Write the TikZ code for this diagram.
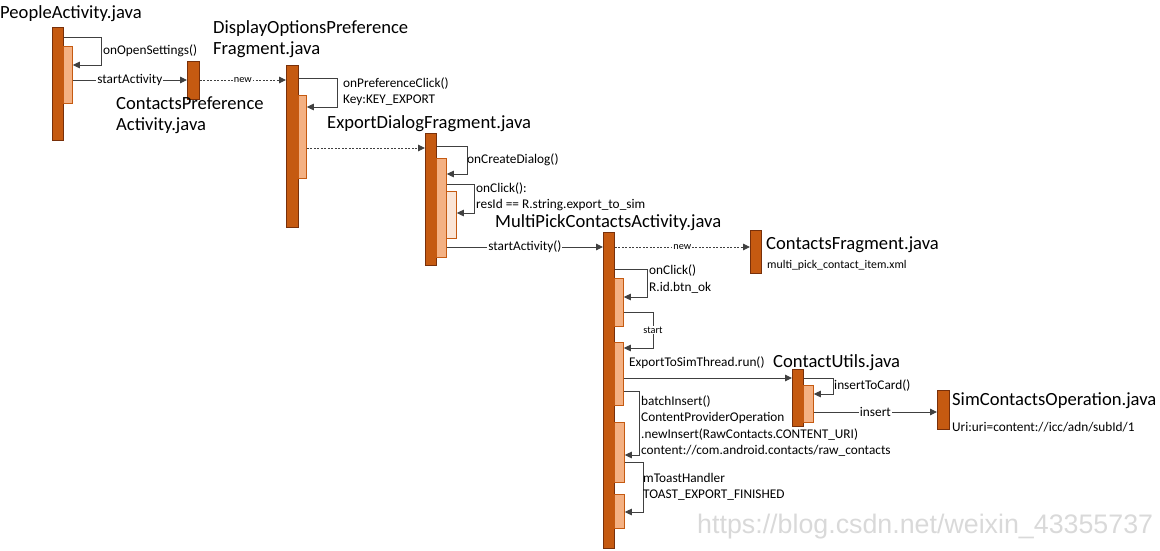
\documentclass[tikz,border=0pt]{standalone}
\usepackage{fontspec}
\setmainfont{Carlito}
\newfontfamily\wmfont{Liberation Sans}
\usetikzlibrary{arrows.meta}

\definecolor{barfill}{RGB}{197,90,17}
\definecolor{bardraw}{RGB}{120,48,10}
\definecolor{actfill}{RGB}{244,177,131}
\definecolor{act2fill}{RGB}{251,229,214}
\definecolor{msgcol}{RGB}{64,64,64}

\begin{document}
\begin{tikzpicture}[
  x=1pt, y=-1pt,
  bar/.style={draw=bardraw, fill=barfill, line width=0.8pt, anchor=north west, inner sep=0pt},
  act/.style={draw=barfill, fill=actfill, line width=0.8pt, anchor=north west, inner sep=0pt},
  act2/.style={draw=barfill, fill=act2fill, line width=0.8pt, anchor=north west, inner sep=0pt},
  title/.style={anchor=west, inner sep=0pt, align=left, font=\fontsize{18.6}{21}\selectfont},
  lbl/.style={anchor=west, inner sep=0pt, align=left, font=\fontsize{13.3}{16.3}\selectfont},
  small/.style={anchor=west, inner sep=0pt, align=left, font=\fontsize{11.8}{13}\selectfont},
  onlbl/.style={fill=white, inner sep=1pt, font=\fontsize{13.3}{14}\selectfont},
  tiny/.style={onlbl, font=\fontsize{10.3}{12}\selectfont},
  msg/.style={draw=msgcol, line width=0.9pt, -{Triangle[length=7pt,width=6.5pt]}},
  newmsg/.style={msg, dashed, dash pattern=on 2pt off 1.5pt}
]
\useasboundingbox (0,0) rectangle (1160,551);

% lifelines and activations
\node[bar, minimum width=11pt, minimum height=113pt] (pa) at (52,27) {};
\node[act, minimum width=9pt, minimum height=57pt] (pa1) at (63,46) {};
\node[bar, minimum width=12pt, minimum height=38pt] (cpa) at (187,61) {};
\node[bar, minimum width=12pt, minimum height=162pt] (dof) at (286,65) {};
\node[act, minimum width=8pt, minimum height=83pt] (dof1) at (298,95) {};
\node[bar, minimum width=11pt, minimum height=132pt] (edf) at (425,133) {};
\node[act, minimum width=10pt, minimum height=99pt] (edf1) at (436,158) {};
\node[act2, minimum width=10pt, minimum height=47pt] (edf2) at (446,191) {};
\node[bar, minimum width=11pt, minimum height=316pt] (mpc) at (603,232) {};
\node[act, minimum width=9pt, minimum height=48pt] (mpc1) at (614,278) {};
\node[act, minimum width=9pt, minimum height=63pt] (mpc2) at (614,342) {};
\node[act, minimum width=10pt, minimum height=60pt] (mpc3) at (614,422) {};
\node[act, minimum width=10pt, minimum height=34pt] (mpc4) at (614,494) {};
\node[bar, minimum width=11pt, minimum height=43pt] (cf) at (750,230) {};
\node[bar, minimum width=11pt, minimum height=57pt] (cu) at (792,369) {};
\node[act, minimum width=10pt, minimum height=37pt] (cu1) at (803,385) {};
\node[bar, minimum width=12pt, minimum height=39pt] (sco) at (937,390) {};

% class names
\node[title] (paname) at (0,14) {PeopleActivity.java};
\node[title] (cpaname) at (116,115) {ContactsPreference\\Activity.java};
\node[title] (dofname) at (213,39) {DisplayOptionsPreference\\Fragment.java};
\node[title] (edfname) at (327,124) {ExportDialogFragment.java};
\node[title] (mpcname) at (495,223) {MultiPickContactsActivity.java};
\node[title] (cfname) at (766,245) {ContactsFragment.java};
\node[small] (cfnote) at (767,265) {multi\_pick\_contact\_item.xml};
\node[title] (cuname) at (773,363) {ContactUtils.java};
\node[title] (sconame) at (952,401) {SimContactsOperation.java};
\node[lbl] (sconote) at (952,427) {Uri:uri=content://icc/adn/subId/1};

% messages
\draw[msg] (pa.east |- 0,37) -| (101,65) -- (pa1.east |- 0,65);
\node[lbl] (l1) at (103,51) {onOpenSettings()};
\draw[msg] (pa1.east |- 0,80) -- node[onlbl]{startActivity} (cpa.west |- 0,80);
\draw[newmsg] (cpa.east |- 0,80) -- node[tiny]{new} (dof.west |- 0,80);

\draw[msg] (dof.east |- 0,78) -| (337,107) -- (dof1.east |- 0,107);
\node[lbl] (l2) at (343,92) {onPreferenceClick()\\Key:KEY\_EXPORT};
\draw[newmsg] (dof1.east |- 0,148) -- (edf.west |- 0,148);

\draw[msg] (edf.east |- 0,146) -| (467,174) -- (edf1.east |- 0,174);
\node[lbl] (l3) at (467,160) {onCreateDialog()};
\draw[msg] (edf1.east |- 0,184) -| (474,213) -- (edf2.east |- 0,213);
\node[lbl] (l4) at (476,197) {onClick():\\resId == R.string.export\_to\_sim};
\draw[msg] (edf1.east |- 0,247) -- node[onlbl]{startActivity()} (mpc.west |- 0,247);
\draw[newmsg] (mpc.east |- 0,247) -- node[tiny]{new} (cf.west |- 0,247);

\draw[msg] (mpc.east |- 0,269) -| (647,297) -- (mpc1.east |- 0,297);
\node[lbl] (l5) at (649,279) {onClick()\\R.id.btn\_ok};
\draw[msg] (mpc1.east |- 0,312) -- (653,312) -- node[tiny]{start} (653,348) -- (mpc2.east |- 0,348);
\node[lbl] (l6) at (629,363) {ExportToSimThread.run()};
\draw[msg] (mpc2.east |- 0,378) -- (cu.west |- 0,378);

\draw[msg] (cu.east |- 0,378) -| (833,394) -- (cu1.east |- 0,394);
\node[lbl] (l7) at (834,386) {insertToCard()};
\draw[msg] (cu1.east |- 0,412) -- node[onlbl]{insert} (sco.west |- 0,412);

\draw[msg] (mpc2.east |- 0,391) -| (639,455) -- (mpc3.east |- 0,455);
\node[lbl] (l8) at (641,426) {batchInsert()\\ContentProviderOperation\\.newInsert(RawContacts.CONTENT\_URI)\\content://com.android.contacts/raw\_contacts};
\draw[msg] (mpc3.east |- 0,462) -| (643,512) -- (mpc4.east |- 0,512);
\node[lbl] (l9) at (643,487) {mToastHandler\\TOAST\_EXPORT\_FINISHED};

\node[anchor=west, inner sep=0pt, text=black!15, font=\wmfont\fontsize{26.8}{28}\selectfont] (wm) at (697,527) {https://blog.csdn.net/weixin\_43355737};
\end{tikzpicture}
\end{document}
